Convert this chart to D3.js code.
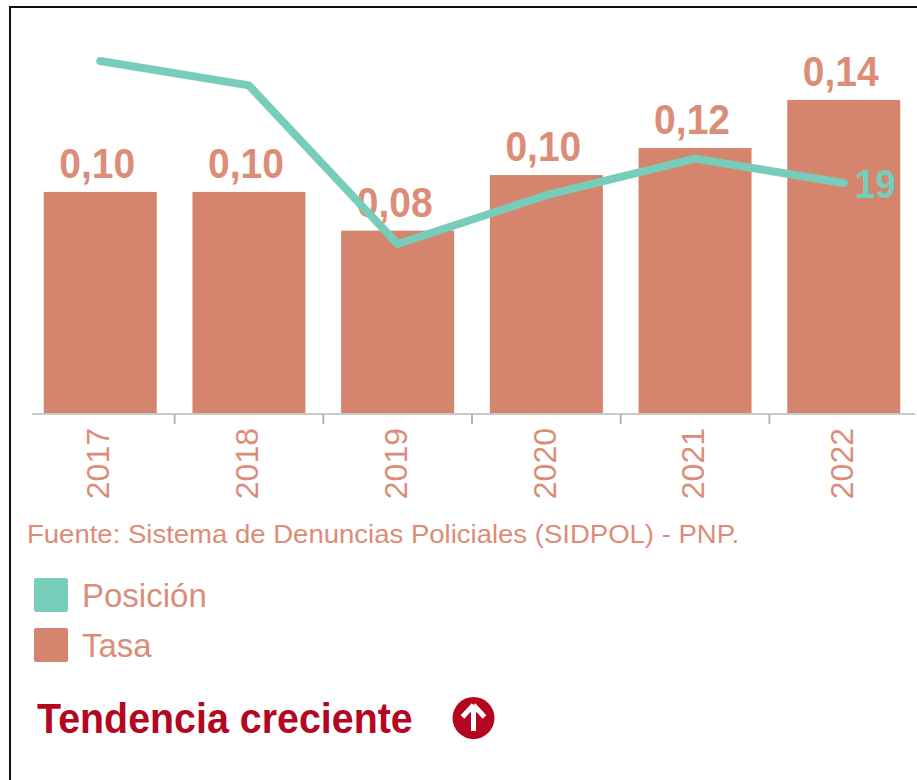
<!DOCTYPE html>
<html><head><meta charset="utf-8">
<script src="https://cdn.jsdelivr.net/npm/d3@7"></script>
<style>html,body{margin:0;padding:0;background:#fff}svg{display:block}text{font-family:"Liberation Sans",Arial,sans-serif}</style>
</head><body><div id="chart"></div>
<script>
const years = ["2017","2018","2019","2020","2021","2022"];
const tasa = [0.0987,0.0987,0.0815,0.1062,0.1182,0.1396];
const tasaLabels = ["0,10","0,10","0,08","0,10","0,12","0,14"];
const posicion = [29,27,14,18,21,19];
const legendItems = ["Posición","Tasa"];
const fuente = "Fuente: Sistema de Denuncias Policiales (SIDPOL) - PNP.";
const tendencia = "Tendencia creciente";
const BAR="#d5846d", TEAL="#78cdba", TXT="#db8d78", RED="#b5061f";

const svg=d3.select("#chart").append("svg").attr("width",917).attr("height",780);
svg.append("rect").attr("width",917).attr("height",780).attr("fill","#fff");
svg.append("path").attr("d",d3.line()([[10,780],[10,7],[917,7]])).attr("fill","none").attr("stroke","#111").attr("stroke-width",2);

const x=d3.scaleBand().domain(years).range([25.9,918.1]).paddingInner(0.24).paddingOuter(0.12);
const y=d3.scaleLinear().domain([0,0.14]).range([414,99]);
const yPos=d3.scaleLinear().domain([19,29]).range([183,61]);

svg.selectAll("rect.bar").data(years).join("rect").attr("class","bar")
  .attr("x",d=>x(d)).attr("width",x.bandwidth())
  .attr("y",(d,i)=>y(tasa[i])).attr("height",(d,i)=>414-y(tasa[i])).attr("fill",BAR);

// axis
const axisG=svg.append("g").attr("transform","translate(0,414)");
axisG.call(d3.axisBottom(x).tickSize(0).tickPadding(0));
axisG.select(".domain").remove();
axisG.selectAll("text").attr("fill",TXT).attr("font-size",32).attr("text-anchor","end")
  .attr("transform","translate(-2,14) rotate(-90)")
  .attr("x",0).attr("y",0).attr("dy","0.35em");
axisG.append("line").attr("x1",32).attr("x2",915).attr("stroke","#c9c9c9").attr("stroke-width",2);
axisG.selectAll("line.tk").data(years.slice(1)).join("line").attr("class","tk")
  .attr("x1",d=>x(d)-x.step()*x.paddingInner()/2).attr("x2",d=>x(d)-x.step()*x.paddingInner()/2)
  .attr("y1",0).attr("y2",10).attr("stroke","#b5b5b5").attr("stroke-width",2);

svg.selectAll("text.val").data(years).join("text").attr("class","val")
  .attr("transform",(d,i)=>`translate(${x(d)+x.bandwidth()/2-3},${y(tasa[i])-14}) scale(1,1.08)`)
  .attr("text-anchor","middle").attr("font-size",39).attr("font-weight","bold").attr("fill",TXT)
  .text((d,i)=>tasaLabels[i]);

const line=d3.line().x(d=>x(d.y)+x.bandwidth()/2).y(d=>yPos(d.v));
const pts=years.map((yy,i)=>({y:yy,v:posicion[i]}));
svg.append("path").datum(pts).attr("d",line).attr("fill","none").attr("stroke",TEAL)
  .attr("stroke-width",8).attr("stroke-linecap","round").attr("stroke-linejoin","round");
svg.append("text").attr("transform",`translate(${x("2022")+x.bandwidth()/2+11},${yPos(19)+15}) scale(1,1.1)`)
  .attr("font-size",37).attr("font-weight","bold").attr("fill",TEAL).text(posicion[5]);

svg.append("text").attr("transform","translate(27,543) scale(1.08,1)").attr("font-size",25.5).attr("fill",TXT).text(fuente);

const legendY=d3.scalePoint().domain(legendItems).range([578,628]);
const color=d3.scaleOrdinal().domain(legendItems).range([TEAL,BAR]);
svg.selectAll("rect.sw").data(legendItems).join("rect").attr("class","sw")
  .attr("x",34).attr("y",d=>legendY(d)).attr("width",34).attr("height",34).attr("rx",2).attr("fill",d=>color(d));
svg.selectAll("text.lg").data(legendItems).join("text").attr("class","lg")
  .attr("x",82).attr("y",d=>legendY(d)+29).attr("font-size",33).attr("fill",TXT).text(d=>d);

svg.append("text").attr("transform","translate(37,733) scale(1.01,1.1)").attr("font-size",39)
  .attr("font-weight","bold").attr("fill",RED).text(tendencia);
const icon=svg.append("g").attr("transform","translate(473.5,718)");
icon.append("circle").attr("r",21).attr("fill",RED);
icon.append("path").attr("d","M0,-13L11,-1M0,-13L-11,-1M0,-11L0,13").attr("fill","none").attr("stroke","#fff").attr("stroke-width",5);
</script></body></html>
